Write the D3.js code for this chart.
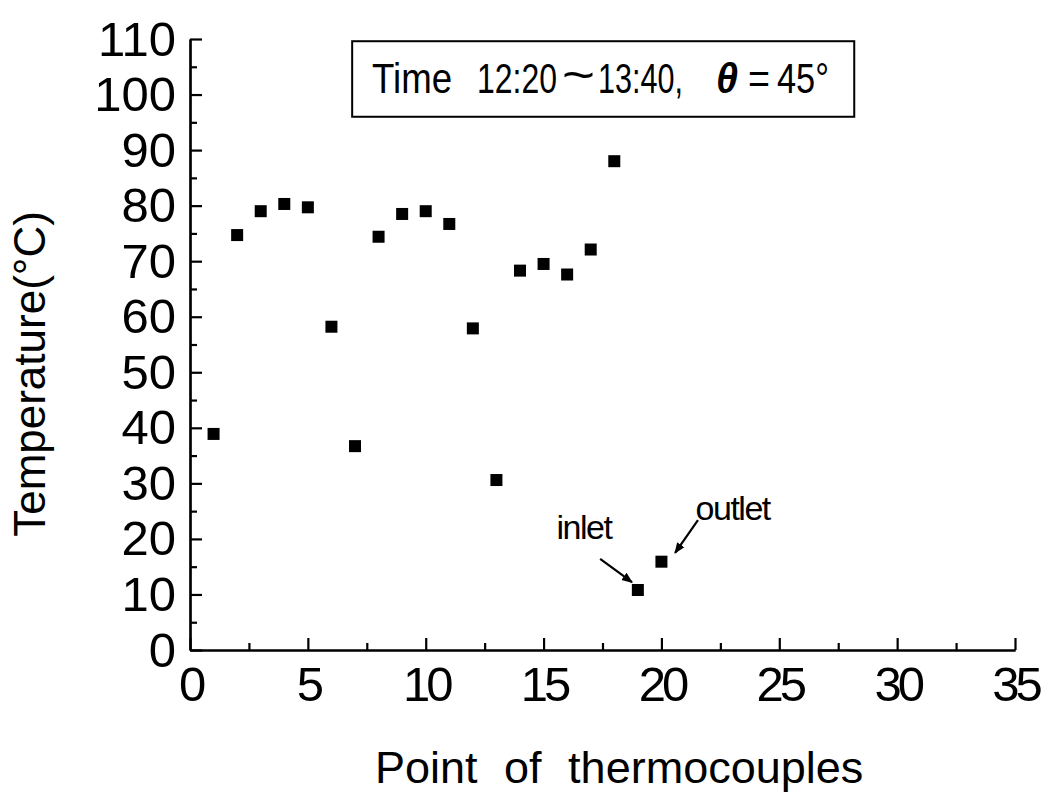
<!DOCTYPE html>
<html>
<head>
<meta charset="utf-8">
<script src="https://cdn.jsdelivr.net/npm/d3@7"></script>
<style>
  body { margin: 0; background: #fff; }
  svg { display: block; font-family: 'Liberation Sans', Arial, sans-serif; }
</style>
</head>
<body>
<div id="chart"></div>
<script>
// thermocouple point number and temperature (°C)
const points = [1, 2, 3, 4, 5, 6, 7, 8, 9, 10, 11, 12, 13, 14, 15, 16, 17, 18, 19, 20]
const temps = [38.9, 74.7, 79.0, 80.3, 79.7, 58.2, 36.7, 74.4, 78.5, 79.0, 76.7, 57.9, 30.6, 68.3, 69.5, 67.6, 72.1, 88.0, 10.8, 15.9]
const xTicks = [0, 5, 10, 15, 20, 25, 30, 35]
const yTicks = [0, 10, 20, 30, 40, 50, 60, 70, 80, 90, 100, 110]

// annotations: label position and arrow (data coords)
const notes = [
  { text: 'inlet', x: 15.55, y: 20.0, from: [17.4, 16.4], to: [18.75, 12.2] },
  { text: 'outlet', x: 21.45, y: 23.4, from: [21.55, 23.4], to: [20.58, 17.5] }
]

const width = 1053
const height = 802
const margin = { left: 190, right: 38, top: 39, bottom: 152 }
const innerWidth = width - margin.left - margin.right
const innerHeight = height - margin.top - margin.bottom

const svg = d3.select('#chart')
  .append('svg')
  .attr('width', width)
  .attr('height', height)

svg.append('defs')
  .append('marker')
  .attr('id', 'arrow')
  .attr('viewBox', '0 0 10 10')
  .attr('refX', 9)
  .attr('refY', 5)
  .attr('markerWidth', 5)
  .attr('markerHeight', 5)
  .attr('markerUnits', 'strokeWidth')
  .attr('orient', 'auto')
  .append('path')
  .attr('d', 'M0,1 L10,5 L0,9 Z')
  .attr('fill', '#000')

const g = svg.append('g')
  .attr('transform', `translate(${margin.left},${margin.top})`)

const xScale = d3.scaleLinear().domain([0, 35]).range([0, innerWidth])
const yScale = d3.scaleLinear().domain([0, 110]).range([innerHeight, 0])

// minor ticks first (labels dropped)
const xMinor = g.append('g')
  .attr('transform', `translate(0,${innerHeight})`)
  .call(d3.axisBottom(xScale).tickValues(d3.range(2.5, 35, 5)).tickSize(-7).tickSizeOuter(0))
const yMinor = g.append('g')
  .call(d3.axisLeft(yScale).tickValues(d3.range(5, 110, 10)).tickSize(-7).tickSizeOuter(0))
xMinor.selectAll('.tick text').remove()
yMinor.selectAll('.tick text').remove()

const xAxisG = g.append('g')
  .attr('transform', `translate(0,${innerHeight})`)
  .call(d3.axisBottom(xScale).tickValues(xTicks).tickSize(-12).tickSizeOuter(0))
const yAxisG = g.append('g')
  .call(d3.axisLeft(yScale).tickValues(yTicks).tickSize(-12).tickSizeOuter(0))

g.selectAll('.domain, .tick line')
  .attr('stroke', '#000')
  .attr('stroke-width', 2.2)

// big digits as in the scan
xAxisG.selectAll('.tick text')
  .attr('y', 51)
  .attr('dy', null)
  .attr('text-anchor', 'middle')
  .style('letter-spacing', '-4px')
yAxisG.selectAll('.tick text')
  .attr('x', -14)
  .attr('dy', 16)
  .attr('text-anchor', 'end')
g.selectAll('.tick text')
  .attr('fill', '#000')
  .attr('font-size', 49)
  .attr('font-family', "'Liberation Sans', Arial, sans-serif")

// points
g.selectAll('.pt')
  .data(points)
  .enter()
  .append('rect')
  .attr('class', 'pt')
  .attr('x', (d, i) => xScale(d) - 6)
  .attr('y', (d, i) => yScale(temps[i]) - 6)
  .attr('width', 12)
  .attr('height', 12)
  .attr('fill', '#000')

// inlet / outlet notes
notes.forEach(n => {
  g.append('text')
    .attr('x', xScale(n.x))
    .attr('y', yScale(n.y))
    .style('font-size', '34px')
    .style('letter-spacing', '-1.5px')
    .text(n.text)
  g.append('line')
    .attr('x1', xScale(n.from[0]))
    .attr('y1', yScale(n.from[1]))
    .attr('x2', xScale(n.to[0]))
    .attr('y2', yScale(n.to[1]))
    .attr('stroke', '#000')
    .attr('stroke-width', 2.2)
    .attr('marker-end', 'url(#arrow)')
})

// condition box
const box = g.append('g')
box.append('rect')
  .attr('x', xScale(6.88))
  .attr('y', yScale(109.6))
  .attr('width', xScale(28.18) - xScale(6.88))
  .attr('height', yScale(96.0) - yScale(109.6))
  .attr('fill', 'none')
  .attr('stroke', '#000')
  .attr('stroke-width', 2)

const boxBase = yScale(100.2)
const boxParts = [
  { text: 'Time', x0: 372, x1: 452 },
  { text: '12:20', x0: 477, x1: 557 },
  { text: '~', x0: 562, x1: 595, size: 48, dy: -2 },
  { text: '13:40,', x0: 598, x1: 683 },
  { text: 'θ', x0: 716, x1: 738, italic: true },
  { text: '=', x0: 748, x1: 770 },
  { text: '45°', x0: 777, x1: 829 }
]
boxParts.forEach(p => {
  box.append('text')
    .attr('x', p.x0 - margin.left)
    .attr('y', boxBase + (p.dy || 0))
    .attr('textLength', p.x1 - p.x0)
    .attr('lengthAdjust', 'spacingAndGlyphs')
    .style('font-size', (p.size || 42) + 'px')
    .style('font-style', p.italic ? 'italic' : null)
    .style('font-weight', p.italic ? 'bold' : null)
    .text(p.text)
})

// axis titles
svg.append('text')
  .attr('x', 375)
  .attr('y', 783)
  .style('font-size', '45px')
  .style('word-spacing', '14px')
  .text('Point of thermocouples')

svg.append('text')
  .attr('transform', 'translate(45,374) rotate(-90)')
  .attr('text-anchor', 'middle')
  .style('font-size', '44px')
  .text('Temperature(°C)')
</script>
</body>
</html>
